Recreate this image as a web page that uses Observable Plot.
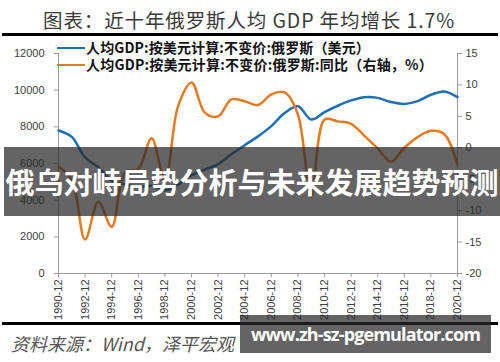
<!DOCTYPE html>
<html><head><meta charset="utf-8">
<script src="https://cdn.jsdelivr.net/npm/d3@7"></script>
<script src="https://cdn.jsdelivr.net/npm/@observablehq/plot@0.6"></script>
<style>
html,body{margin:0;padding:0;}
body{width:500px;height:362px;position:relative;background:#fff;overflow:hidden;font-family:"Noto Sans CJK SC","Noto Sans",sans-serif;}
.abs{position:absolute;white-space:nowrap;}
#chart{position:absolute;left:0;top:0;}
.leg{position:absolute;left:57px;font-size:14px;font-weight:700;color:#111;line-height:17px;}
.leg span.sw{display:inline-block;width:28px;height:2.5px;vertical-align:middle;margin-right:1px;position:relative;top:-1px;}
</style></head><body>
<div class="abs" style="left:43px;top:7px;font-size:19.5px;color:#3a3a3a;line-height:26px;"><span id="title">图表：近十年俄罗斯人均 GDP 年均增长 1.7%</span></div>
<div class="abs" style="left:2px;top:33px;width:496px;height:3px;background:#000"></div>
<div id="chart"></div>
<div class="leg" style="top:39px;"><span class="sw" style="background:#1f6fb5"></span><span id="leg1">人均GDP:按美元计算:不变价:俄罗斯（美元）</span></div>
<div class="leg" style="top:56px;"><span class="sw" style="background:#e57a1f"></span><span id="leg2">人均GDP:按美元计算:不变价:俄罗斯:同比（右轴，%）</span></div>
<div class="abs" style="left:2px;top:322px;width:496px;height:3px;background:#000"></div>
<div class="abs" style="left:11px;top:331px;font-size:18px;font-style:italic;color:#555;line-height:24px;">资料来源：Wind，泽平宏观</div>
<div class="abs" style="left:4px;top:147px;width:496px;height:69px;background:rgba(40,40,40,0.72);color:#fff;font-weight:700;font-size:29px;line-height:69px;text-align:center;">俄乌对峙局势分析与未来发展趋势预测</div>
<div class="abs" style="left:240px;top:315px;width:251px;height:38px;background:rgba(40,40,40,0.72);color:#fff;font-weight:700;font-size:18px;line-height:38px;text-align:center;font-family:'Open Sans',sans-serif;"><span id="wm">www.zh-sz-pgemulator.com</span></div>
<script>
const years = [1990,1991,1992,1993,1994,1995,1996,1997,1998,1999,2000,2001,2002,2003,2004,2005,2006,2007,2008,2009,2010,2011,2012,2013,2014,2015,2016,2017,2018,2019,2020];
const gdpPerCapita = [7800,7450,6330,5790,5060,4870,4710,4790,4540,4850,5360,5670,5970,6500,7000,7480,8040,8750,9120,8400,8800,9150,9440,9620,9580,9350,9250,9400,9750,9930,9620];
const growthYoY = [-3.0,-5.1,-14.6,-8.6,-12.6,-3.9,-3.4,1.5,-5.2,6.7,10.4,5.6,5.0,7.7,7.4,6.8,8.5,8.8,5.3,-7.8,4.5,4.2,3.8,1.9,-0.1,-2.2,0.0,1.7,2.7,2.2,-2.7];
const leftTicks = [0,2000,4000,6000,8000,10000,12000];
const rightTicks = [-20,-15,-10,-5,0,5,10,15];
const xTicks = [1990,1992,1994,1996,1998,2000,2002,2004,2006,2008,2010,2012,2014,2016,2018,2020];

const leftMax = 12000, rMin = -20, rMax = 15;
const toLeft = v => (v - rMin) / (rMax - rMin) * leftMax;
const fromLeft = d => String(Math.round(d / leftMax * (rMax - rMin) + rMin));

const gdpData = years.map((y, i) => ({year: y, value: gdpPerCapita[i]}));
const growthData = years.map((y, i) => ({year: y, value: toLeft(growthYoY[i])}));

const axisColor = "#9a9a9a";
const chart = Plot.plot({
  width: 500, height: 330,
  marginLeft: 58, marginRight: 43, marginTop: 53, marginBottom: 57,
  style: {fontFamily: "'Liberation Sans', Arial, sans-serif", fontSize: "11px", color: "#404040", background: "transparent"},
  x: {domain: [1990, 2020]},
  y: {domain: [0, leftMax]},
  marks: [
    Plot.ruleX([1990, 2020], {y1: 0, y2: leftMax, stroke: axisColor}),
    Plot.ruleY([0], {stroke: axisColor}),
    Plot.axisY(leftTicks, {anchor: "left", tickSize: 4, tickPadding: 10, label: null, tickFormat: d => String(d), stroke: axisColor, fill: "#404040"}),
    Plot.axisY(rightTicks.map(toLeft), {anchor: "right", tickSize: 4, tickPadding: 4, label: null, tickFormat: fromLeft, stroke: axisColor, fill: "#404040"}),
    Plot.axisX(xTicks, {anchor: "bottom", tickSize: 4, tickPadding: 2, tickRotate: -90, label: null, tickFormat: d => d + "-12", stroke: axisColor, fill: "#404040"}),
    Plot.line(gdpData, {x: "year", y: "value", curve: "catmull-rom", stroke: "#1f6fb5", strokeWidth: 2.5}),
    Plot.line(growthData, {x: "year", y: "value", curve: "catmull-rom", stroke: "#e57a1f", strokeWidth: 2.5})
  ]
});
document.getElementById("chart").appendChild(chart);

// stretch texts to the widths seen in the reference using letter-spacing
function fitWidth(id, target) {
  const el = document.getElementById(id);
  const n = el.textContent.length;
  const w = el.getBoundingClientRect().width;
  el.style.letterSpacing = ((target - w) / n) + "px";
}
fitWidth("title", 412);
fitWidth("leg1", 284);
fitWidth("leg2", 347);
fitWidth("wm", 229);
</script>
</body></html>
